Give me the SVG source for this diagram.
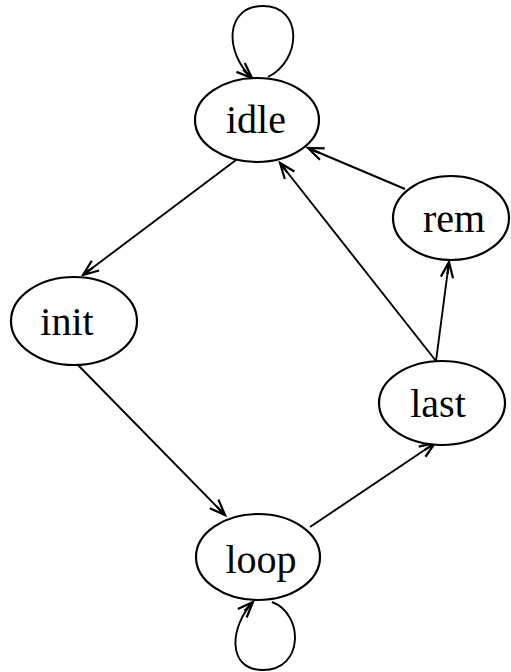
<svg xmlns="http://www.w3.org/2000/svg" width="511" height="672" viewBox="0 0 511 672">
<style>
.node ellipse{fill:#fff;stroke:#000;stroke-width:2.2}
.node text{font-family:"Liberation Serif","Times New Roman",serif;font-size:40px;fill:#000;text-anchor:middle}
.edge{fill:none;stroke:#000;stroke-width:1.9}
</style>
<defs>
<marker id="arr" markerUnits="userSpaceOnUse" markerWidth="20" markerHeight="20" viewBox="-16 -8 18 16" refX="0" refY="0" orient="auto">
<path d="M-14,-5.5 L0,0 L-14,5.5 M0,0 L-11,0" fill="none" stroke="#000" stroke-width="2"/>
</marker>
</defs>
<rect width="511" height="672" fill="#fff"/>
<g id="connectors">
<path class="edge" d="M268,77 C302,60 303,6 263,6 C225,6 224,52 252,78" marker-end="url(#arr)"/>
<path class="edge" d="M236,160 L83,275" marker-end="url(#arr)"/>
<path class="edge" d="M77,364 L225,515" marker-end="url(#arr)"/>
<path class="edge" d="M310,527 L435,443" marker-end="url(#arr)"/>
<path class="edge" d="M436,361 L280,163" marker-end="url(#arr)"/>
<path class="edge" d="M436,361 L449,262" marker-end="url(#arr)"/>
<path class="edge" d="M405,189 L308,148" marker-end="url(#arr)"/>
<path class="edge" d="M272,602 C304,614 304,670 263,670 C226,670 230,626 253,602" marker-end="url(#arr)"/>
</g>
<g id="idle" class="node"><ellipse cx="257" cy="120" rx="62" ry="42"/><text x="256" y="133">idle</text></g>
<g id="init" class="node"><ellipse cx="74" cy="321" rx="63" ry="44"/><text x="67" y="335">init</text></g>
<g id="loop" class="node"><ellipse cx="258" cy="557" rx="62" ry="43"/><text x="261" y="573">loop</text></g>
<g id="rem" class="node"><ellipse cx="451" cy="218" rx="58" ry="42"/><text x="454" y="232">rem</text></g>
<g id="last" class="node"><ellipse cx="442" cy="403" rx="63" ry="42"/><text x="438" y="417">last</text></g>
</svg>
